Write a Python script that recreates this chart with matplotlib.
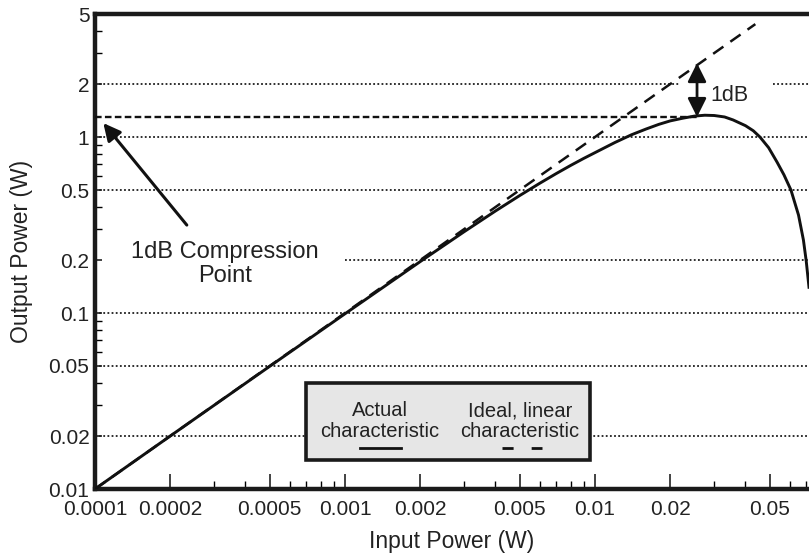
import matplotlib
matplotlib.use("Agg")
import matplotlib.pyplot as plt
from matplotlib.patches import Rectangle
from matplotlib.lines import Line2D
from matplotlib.ticker import FixedLocator, NullFormatter

plt.rcParams['font.family'] = ['Liberation Sans', 'DejaVu Sans']

# actual amplifier characteristic
p_in = [0.0001, 0.0002, 0.0005, 0.001, 0.002, 0.003, 0.004, 0.005, 0.006,
        0.007, 0.008, 0.009, 0.01, 0.012, 0.014, 0.016, 0.018, 0.02,
        0.0225, 0.025, 0.0275, 0.03, 0.033, 0.0357, 0.04, 0.043, 0.0457,
        0.0495, 0.0535, 0.057, 0.0608, 0.0652, 0.0682, 0.070, 0.0718]
p_out = [0.01, 0.02, 0.0498, 0.099, 0.196, 0.29, 0.38, 0.465, 0.545,
         0.62, 0.69, 0.755, 0.815, 0.93, 1.03, 1.11, 1.18, 1.235,
         1.28, 1.315, 1.33, 1.325, 1.30, 1.25, 1.16, 1.085, 1.0,
         0.87, 0.72, 0.61, 0.5, 0.36, 0.26, 0.197, 0.14]

# ideal linear characteristic (gain 100)
ideal_in = [0.0001, 0.0438]
ideal_out = [0.01, 4.38]

comp_level = 1.3      # 1dB compression output level
comp_x = 0.0256       # where the 1dB arrow sits
comp_top = 2.63

x_major = [0.0001, 0.0002, 0.0005, 0.001, 0.002, 0.005, 0.01, 0.02, 0.05]
x_labels = ["0.0001", "0.0002", "0.0005", "0.001", "0.002", "0.005", "0.01", "0.02", "0.05"]
x_minor = [0.0003, 0.0004, 0.0006, 0.0007, 0.0008, 0.0009, 0.003, 0.004,
           0.006, 0.007, 0.008, 0.009, 0.03, 0.04, 0.06, 0.07]
y_major = [0.01, 0.02, 0.05, 0.1, 0.2, 0.5, 1, 2, 5]
y_labels = ["0.01", "0.02", "0.05", "0.1", "0.2", "0.5", "1", "2", "5"]
y_minor = [0.03, 0.04, 0.06, 0.07, 0.08, 0.09, 0.3, 0.4, 0.6, 0.7, 0.8, 0.9, 3, 4]

# dotted reference lines (level, start, end)
grid_rows = [(0.02, 0.0001, 0.0718), (0.05, 0.0001, 0.0718), (0.1, 0.0001, 0.0718),
             (0.2, 0.001, 0.0718), (0.5, 0.0001, 0.0718), (1, 0.0001, 0.0718),
             (2, 0.0001, 0.0219), (2, 0.0515, 0.0718)]

fig = plt.figure(figsize=(8.09, 5.56), dpi=100)
ax = fig.add_axes([0.1174, 0.1205, 0.8826, 0.8543])
ax.set_xscale("log")
ax.set_yscale("log")
ax.set_xlim(0.0001, 0.0718)
ax.set_ylim(0.01, 5)

for lvl, x0, x1 in grid_rows:
    ax.hlines(lvl, x0, x1, colors="#1e1e1e", lw=1.3, linestyles=(0, (1, 1.3)), zorder=1)

ax.plot(ideal_in, ideal_out, color="#111111", lw=1.8, dashes=(5, 3.4), zorder=3)
ax.plot(p_in, p_out, color="#111111", lw=2.1, zorder=4, solid_joinstyle="round")
ax.hlines(comp_level, 0.0001, comp_x, colors="#111111", lw=1.7,
          linestyles=(0, (2.8, 1.4)), zorder=3)

# 1dB arrow
ax.annotate("", xy=(comp_x, comp_top), xytext=(comp_x, comp_level),
            arrowprops=dict(arrowstyle="<|-|>", color="#111111", lw=2,
                            mutation_scale=28, shrinkA=0, shrinkB=0), zorder=5)
ax.text(0.0289, 1.72, "1dB", fontsize=15.5, color="#222222", va="center", ha="left")

# compression point annotation
ax.annotate("", xy=(0.000108, 1.2), xytext=(0.000233, 0.316),
            arrowprops=dict(arrowstyle="-|>", color="#111111", lw=2.2,
                            mutation_scale=26, shrinkA=0, shrinkB=0), zorder=5)
ax.text(0.000331, 0.19, "1dB Compression\nPoint", fontsize=17, color="#222222",
        ha="center", va="center", linespacing=1.12)

# legend box
box = Rectangle((0.2955, 0.061), 0.3975, 0.162, transform=ax.transAxes,
                facecolor="#e6e6e6", edgecolor="#1a1a1a", lw=2.6, zorder=6)
ax.add_patch(box)
ax.text(0.399, 0.143, "Actual\ncharacteristic", transform=ax.transAxes, fontsize=14.5,
        color="#222222", ha="center", va="center", linespacing=1.12, zorder=7)
ax.text(0.595, 0.143, "Ideal, linear\ncharacteristic", transform=ax.transAxes, fontsize=14.5,
        color="#222222", ha="center", va="center", linespacing=1.12, zorder=7)
ax.add_line(Line2D([0.371, 0.428], [0.086, 0.086], transform=ax.transAxes,
                   color="#111111", lw=2.0, zorder=7))
ax.add_line(Line2D([0.570, 0.626], [0.086, 0.086], transform=ax.transAxes,
                   color="#111111", lw=2.0, dashes=(4, 6.5), zorder=7))

# spines and ticks
for s in ["left", "bottom", "top"]:
    ax.spines[s].set_linewidth(3.2)
    ax.spines[s].set_color("#1a1a1a")
ax.spines["right"].set_visible(False)

ax.xaxis.set_major_locator(FixedLocator(x_major))
ax.xaxis.set_minor_locator(FixedLocator(x_minor))
ax.set_xticklabels(x_labels)
ax.xaxis.set_minor_formatter(NullFormatter())
ax.yaxis.set_major_locator(FixedLocator(y_major))
ax.yaxis.set_minor_locator(FixedLocator(y_minor))
ax.set_yticklabels(y_labels)
ax.yaxis.set_minor_formatter(NullFormatter())

ax.tick_params(axis="x", which="major", direction="in", length=11, width=1.2,
               labelsize=15, pad=8, top=False, colors="#222222")
ax.tick_params(axis="x", which="minor", direction="in", length=6, width=1.0, top=False)
ax.tick_params(axis="y", which="major", direction="in", length=5, width=1.2,
               labelsize=15, pad=4, right=False, colors="#222222")
ax.tick_params(axis="y", which="minor", direction="in", length=5, width=1.0, right=False)

ax.set_xlabel("Input Power (W)", fontsize=16.5, color="#222222", labelpad=8)
ax.set_ylabel("Output Power (W)", fontsize=16.5, color="#222222", labelpad=11)

fig.savefig("out.png", dpi=100)
